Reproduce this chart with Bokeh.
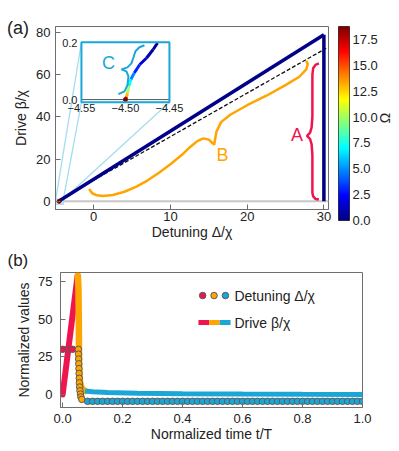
import math
import numpy as np
from bokeh.plotting import figure
from bokeh.models import (Range1d, LinearColorMapper, FixedTicker, LinearAxis, Div,
                          PrintfTickFormatter, Span, Title, ColumnDataSource)
from bokeh.layouts import column, row
from bokeh.transform import linear_cmap
from bokeh.core.properties import value
from bokeh.embed import file_html
from bokeh.resources import INLINE

FONT = "Liberation Sans"
TXT = "#222222"
AXC = "#6e6e6e"
RED = "#f0144e"
ORANGE = "#ffa500"
CYAN = "#1aa7d8"
LIGHTCYAN = "#a5dcef"

# ---------------- panel (a) data ----------------
ab_delta = [30.0, 30.0]
ab_beta = [0.0, 78.9]
ab_omega = [0.0, 0.0]
c_delta = [-4.4636, -4.4685, -4.476, -4.4837, -4.49, -4.4939, -4.4962, -4.4977, -4.4988, -4.50]
c_beta = [0.2, 0.177, 0.147, 0.124, 0.094, 0.071, 0.047, 0.023, 0.010, 0.0]
c_omega = [0.3, 0.6, 1.2, 2.2, 3.8, 5.8, 8.5, 11.5, 14.5, 18.5]

dash_delta = [0.0, 30.3]
dash_beta = [10.0, 72.5]

braceB_delta = [-0.6, -0.2, 0.4, 1.2, 2.5, 4.0, 5.5, 7.0, 8.5, 10.0, 11.5, 12.5, 13.5, 14.3,
                15.0, 15.5, 15.7, 15.8, 16.0, 16.6, 17.8, 20.0, 22.5, 25.0, 26.8, 27.7, 27.9, 27.7]
braceB_beta = [5.8, 3.8, 2.8, 2.5, 3.0, 4.5, 6.8, 9.8, 13.5, 17.5, 22.0, 25.5, 28.5, 29.8,
               29.2, 27.5, 26.8, 29.0, 33.0, 37.5, 41.0, 45.5, 50.0, 55.0, 59.0, 62.5, 65.0, 66.5]
braceA_delta = [29.35, 28.9, 28.6, 28.5, 28.5, 28.4, 28.2, 27.8, 28.2, 28.4, 28.5, 28.5, 28.6, 28.9, 29.35]
braceA_beta = [65.3, 64.6, 63.0, 60.0, 40.0, 35.0, 32.5, 31.0, 29.5, 27.0, 22.0, 4.0, 2.3, 1.1, 0.8]
braceC_delta = [-4.4784, -4.4841, -4.4886, -4.4909, -4.4932, -4.4977, -4.5045, -4.4989,
                -4.4966, -4.4977, -4.5011, -4.508]
braceC_beta = [0.192, 0.185, 0.171, 0.149, 0.128, 0.114, 0.107, 0.100, 0.082, 0.051, 0.029, 0.019]

x_ticks_a = [0, 10, 20, 30]
y_ticks_a = [0, 20, 40, 60, 80]
cb_ticks = [0.0, 2.5, 5.0, 7.5, 10.0, 12.5, 15.0, 17.5]
inset_xticks = [-4.55, -4.50, -4.45]
inset_xlabels = ["\u22124.55", "\u22124.50", "\u22124.45"]
inset_yticks = [0.0, 0.2]
inset_ylabels = ["0.0", "0.2"]

# ---------------- panel (b) data ----------------
det_red_t = [0.0, 0.0167, 0.0333]
det_red_v = [30.0, 30.0, 30.0]
det_or_t = [0.0525, 0.053, 0.0535, 0.054, 0.0545, 0.055, 0.0555, 0.056, 0.057, 0.058, 0.0595, 0.061, 0.064]
det_or_v = [30.0, 26.8, 23.6, 20.4, 17.2, 14.0, 10.8, 7.8, 5.0, 2.5, 0.3, -1.6, -3.2]
det_cy_t = [0.0833, 0.1, 0.1167, 0.1333, 0.15, 0.1667, 0.1833, 0.2, 0.2167, 0.2333, 0.25, 0.2667,
            0.2833, 0.3, 0.3167, 0.3333, 0.35, 0.3667, 0.3833, 0.4, 0.4167, 0.4333, 0.45, 0.4667,
            0.4833, 0.5, 0.5167, 0.5333, 0.55, 0.5667, 0.5833, 0.6, 0.6167, 0.6333, 0.65, 0.6667,
            0.6833, 0.7, 0.7167, 0.7333, 0.75, 0.7667, 0.7833, 0.8, 0.8167, 0.8333, 0.85, 0.8667,
            0.8833, 0.9, 0.9167, 0.9333, 0.95, 0.9667, 0.9833, 1.0]
det_cy_v = [-4.5] * len(det_cy_t)

drv_red_t = [0.0, 0.05]
drv_red_v = [0.0, 78.9]
drv_or_t = [0.051, 0.053, 0.054, 0.0545, 0.055, 0.056, 0.058, 0.062, 0.068, 0.075]
drv_or_v = [78.9, 70.0, 50.0, 35.0, 22.0, 14.0, 8.5, 5.0, 3.2, 2.4]
drv_cy_t = [0.075, 0.1, 0.15, 0.25, 0.4, 0.6, 0.8, 1.0]
drv_cy_v = [2.4, 1.8, 1.3, 0.9, 0.6, 0.35, 0.15, 0.0]

x_ticks_b = [0.0, 0.2, 0.4, 0.6, 0.8, 1.0]
y_ticks_b = [0, 25, 50, 75]


def jet_hex(v):
    def c(x):
        return int(round(255 * min(max(x, 0.0), 1.0)))
    return "#%02x%02x%02x" % (c(1.5 - abs(4 * v - 3)), c(1.5 - abs(4 * v - 2)), c(1.5 - abs(4 * v - 1)))


JET = [jet_hex(i / 255.0) for i in range(256)]
OM_LOW, OM_HIGH = 0.0, 18.75


def style(p):
    p.outline_line_color = AXC
    p.outline_line_width = 1
    p.background_fill_color = "white"
    p.border_fill_color = "white"
    p.grid.visible = False
    for ax in p.axis:
        ax.axis_line_color = AXC
        ax.major_tick_line_color = AXC
        ax.minor_tick_line_color = None
        ax.major_tick_in = 5
        ax.major_tick_out = 0
        ax.major_label_text_font = FONT
        ax.major_label_text_font_size = "13px"
        ax.major_label_text_color = TXT
        ax.axis_label_text_font = FONT
        ax.axis_label_text_font_size = "14px"
        ax.axis_label_text_font_style = "normal"
        ax.axis_label_text_color = TXT


def segs(d, b, o):
    return dict(xs=[[d[i], d[i + 1]] for i in range(len(d) - 1)],
                ys=[[b[i], b[i + 1]] for i in range(len(b) - 1)],
                om=[0.5 * (o[i] + o[i + 1]) for i in range(len(o) - 1)])


# ================= panel (a) =================
pa = figure(frame_width=273, frame_height=183, x_range=Range1d(-4.98, 30.6), y_range=Range1d(-3.9, 82.8),
            output_backend="svg", toolbar_location=None,
            min_border_left=55, min_border_right=4, min_border_top=26, min_border_bottom=36)
pa.xaxis.axis_label = "Detuning Δ/χ"
pa.yaxis.axis_label = "Drive β/χ"
pa.xaxis.ticker = FixedTicker(ticks=x_ticks_a)
pa.yaxis.ticker = FixedTicker(ticks=y_ticks_a)
style(pa)
pa.xaxis.major_label_standoff = 2
pa.xaxis.axis_label_standoff = 0
pa.yaxis.major_label_standoff = 5
pa.yaxis.axis_label_standoff = 4

pa.add_layout(Span(location=0, dimension="width", line_color="#c8c8c8", line_width=2, level="underlay"))

cmap = linear_cmap("om", JET, OM_LOW, OM_HIGH)

inset_x = Range1d(-4.55, -4.45)
inset_y = Range1d(-0.0095, 0.2025)
inset_tx = Range1d(-1.6, 9.87)
inset_ty = Range1d(46.9, 75.3)
box_l, box_r, box_b, box_t = -4.95, -3.95, -1.5, 1.0

pa.segment(x0=[box_l, box_r, box_r], y0=[box_t, box_t, box_t],
           x1=[inset_tx.start, inset_tx.start, inset_tx.end],
           y1=[inset_ty.end, inset_ty.start, inset_ty.start],
           line_color=LIGHTCYAN, line_width=1.3)
pa.quad(left=[box_l], right=[box_r], bottom=[box_b], top=[box_t],
        fill_color="#bfe8f6", line_color=LIGHTCYAN, line_width=1)

pa.line(dash_delta, dash_beta, line_color="#111111", line_width=1.3, line_dash="4 2")
pa.line(braceB_delta, braceB_beta, line_color=ORANGE, line_width=2.5)
pa.line(braceA_delta, braceA_beta, line_color=RED, line_width=2.5)

main_src = ColumnDataSource(segs(ab_delta + c_delta, ab_beta + c_beta, ab_omega + c_omega))
pa.multi_line("xs", "ys", source=main_src, line_color=cmap, line_width=3.5)
pa.scatter([c_delta[-1]], [c_beta[-1]], size=4, color=jet_hex(1.0))

pa.text(x=[26.5], y=[31.6], text=["A"], text_color=RED, text_font=value(FONT),
        text_font_size="18px", text_align="center", text_baseline="middle")
pa.text(x=[16.8], y=[22.1], text=["B"], text_color=ORANGE, text_font=value(FONT),
        text_font_size="18px", text_align="center", text_baseline="middle")

pa.quad(left=[inset_tx.start], right=[inset_tx.end], bottom=[inset_ty.start], top=[inset_ty.end],
        fill_color="white", line_color=None)
sub = pa.subplot(x_source=inset_x, y_source=inset_y, x_target=inset_tx, y_target=inset_ty)
sub.segment(x0=[inset_x.start], y0=[0.0], x1=[inset_x.end], y1=[0.0], line_color="#555555", line_width=1)
inset_src = ColumnDataSource(segs(c_delta, c_beta, c_omega))
sub.multi_line("xs", "ys", source=inset_src, line_color=cmap, line_width=3)
sub.scatter([c_delta[-1]], [c_beta[-1]], size=4, color=jet_hex(1.0))
sub.line(braceC_delta, braceC_beta, line_color=CYAN, line_width=2)
sub.text(x=[-4.5193], y=[0.128], text=["C"], text_color=CYAN, text_font=value(FONT),
         text_font_size="18px", text_align="center", text_baseline="middle")
sub.text(x=inset_xticks, y=[inset_y.start] * 3, text=inset_xlabels, text_color=TXT,
         text_font=value(FONT), text_font_size="11px", text_align="center", text_baseline="top",
         y_offset=2)
sub.text(x=[inset_x.start] * 2, y=inset_yticks, text=inset_ylabels, text_color=TXT,
         text_font=value(FONT), text_font_size="11px", text_align="right", text_baseline="middle",
         x_offset=-4)
pa.quad(left=[inset_tx.start], right=[inset_tx.end], bottom=[inset_ty.start], top=[inset_ty.end],
        fill_color=None, line_color=CYAN, line_width=2)

# ---- colour bar as its own narrow figure ----
mapper = LinearColorMapper(palette=JET, low=OM_LOW, high=OM_HIGH)
grad = np.linspace(OM_LOW, OM_HIGH, 256).reshape(256, 1)
pcb = figure(frame_width=11, frame_height=194, x_range=Range1d(0, 1), y_range=Range1d(OM_LOW, OM_HIGH),
             x_axis_location=None, y_axis_location="right", output_backend="svg", toolbar_location=None,
             min_border_left=6, min_border_top=21, min_border_bottom=16, min_border_right=0)
pcb.image(image=[grad], x=0, y=OM_LOW, dw=1, dh=OM_HIGH - OM_LOW, color_mapper=mapper)
pcb.grid.visible = False
pcb.outline_line_color = "#333333"
pcb.outline_line_width = 1
pcb.yaxis.ticker = FixedTicker(ticks=cb_ticks)
pcb.yaxis.formatter = PrintfTickFormatter(format="%.1f")
pcb.yaxis.axis_line_color = None
pcb.yaxis.major_tick_line_color = None
pcb.yaxis.minor_tick_line_color = None
pcb.yaxis.major_tick_out = 0
pcb.yaxis.major_tick_in = 0
pcb.yaxis.minor_tick_out = 0
pcb.yaxis.major_label_standoff = 3
pcb.yaxis.major_label_text_font = FONT
pcb.yaxis.major_label_text_font_size = "13px"
pcb.yaxis.major_label_text_color = TXT
omega_axis = LinearAxis(ticker=FixedTicker(ticks=[9.4]), major_label_overrides={9.4: "Ω"},
                        major_label_orientation=math.pi / 2, axis_line_color=None,
                        major_tick_line_color=None, minor_tick_line_color=None,
                        major_tick_out=0, major_tick_in=0, minor_tick_out=0,
                        major_label_standoff=5, major_label_text_font=FONT,
                        major_label_text_font_size="14px", major_label_text_color=TXT)
pcb.add_layout(omega_axis, "right")

# panel letter (a), laid over the top-left corner
label_a = Div(text="(a)", styles={"position": "absolute", "left": "7px", "top": "19px",
                                  "font-family": FONT, "font-size": "18px", "line-height": "1",
                                  "color": TXT, "margin": "0", "padding": "0", "z-index": "10"})

# ================= panel (b) =================
pb = figure(frame_width=302, frame_height=135, x_range=Range1d(-0.007, 1.0), y_range=Range1d(-8.6, 81.0),
            output_backend="svg", toolbar_location=None,
            min_border_left=60, min_border_right=29, min_border_top=27, min_border_bottom=42)
pb.title = Title(text="(b)", align="left", offset=-53, standoff=6, text_font=FONT,
                 text_font_size="17px", text_font_style="normal", text_color=TXT)
pb.xaxis.axis_label = "Normalized time t/T"
pb.yaxis.axis_label = "Normalized values"
pb.xaxis.ticker = FixedTicker(ticks=x_ticks_b)
pb.xaxis.formatter = PrintfTickFormatter(format="%.1f")
pb.yaxis.ticker = FixedTicker(ticks=y_ticks_b)
style(pb)
pb.xaxis.major_label_standoff = 6
pb.xaxis.axis_label_standoff = 0
pb.yaxis.major_label_standoff = 8
pb.yaxis.axis_label_standoff = 3

pb.line(drv_red_t, drv_red_v, line_color=RED, line_width=6, line_cap="round")
pb.line(drv_or_t, drv_or_v, line_color=ORANGE, line_width=6.5, line_cap="round")
pb.line(drv_cy_t, drv_cy_v, line_color=CYAN, line_width=5)

mk = dict(size=6.5, line_color="#5a5a5a", line_width=1)
pb.scatter(det_red_t, det_red_v, fill_color=RED, **mk)
pb.scatter(det_or_t, det_or_v, fill_color=ORANGE, **mk)
pb.scatter(det_cy_t, det_cy_v, fill_color=CYAN, **mk)

leg_dot_t = [0.467, 0.505, 0.543]
leg_y1, leg_y2 = 65.7, 47.8
pb.scatter(leg_dot_t, [leg_y1] * 3, fill_color=[RED, ORANGE, CYAN], **mk)
pb.segment(x0=[0.453, 0.489, 0.524], y0=[leg_y2] * 3, x1=[0.489, 0.524, 0.56], y1=[leg_y2] * 3,
           line_color=[RED, ORANGE, CYAN], line_width=5)
pb.text(x=[0.573, 0.573], y=[leg_y1, leg_y2], text=["Detuning Δ/χ", "Drive β/χ"],
        text_color=TXT, text_font=value(FONT), text_font_size="14px",
        text_align="left", text_baseline="middle")

layout = column(row(pa, pcb), pb, label_a)
open("out.html", "w").write(file_html(layout, INLINE))
